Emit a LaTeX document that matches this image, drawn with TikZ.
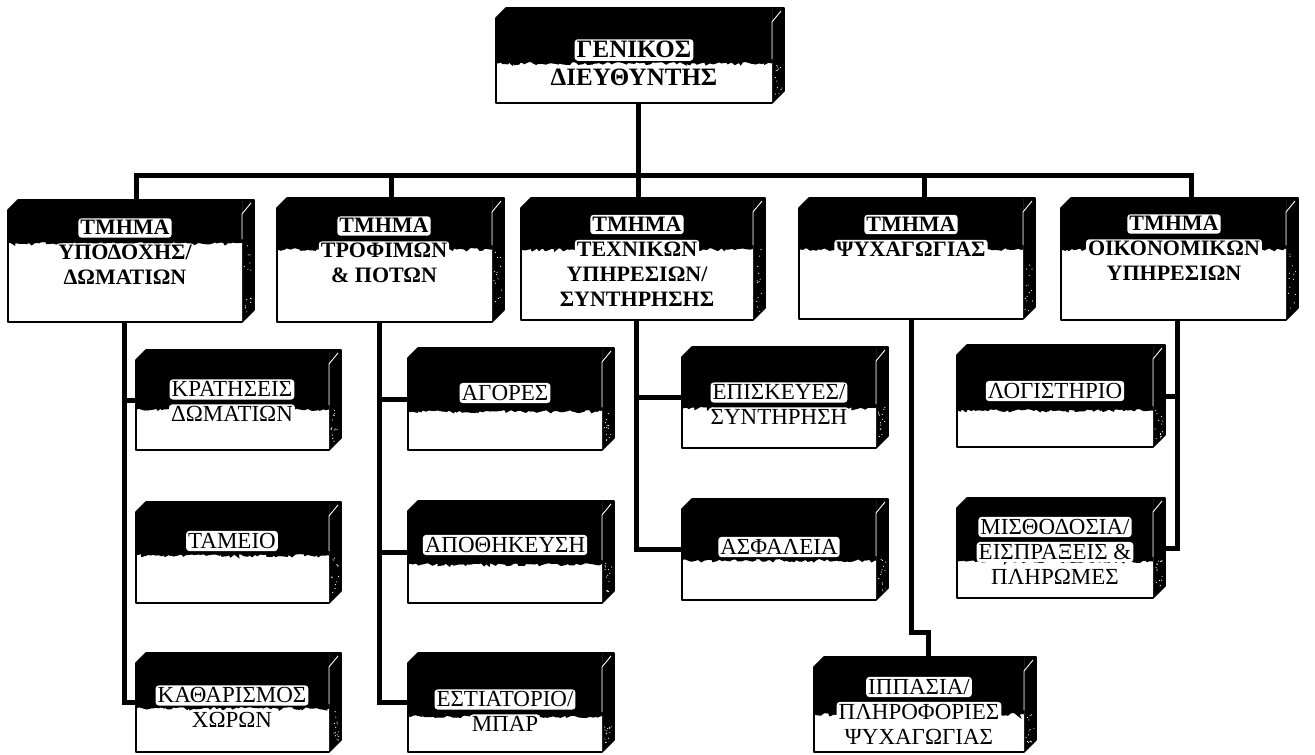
\documentclass[tikz,border=0pt]{standalone}
\usepackage{fontspec}
\setmainfont{Liberation Serif}
\usetikzlibrary{decorations.pathmorphing}

% 3-D box: name, left, top, front right, bottom, depth of the dark top band
\newcommand\orgbox[6]{%
  \fill[black] (#4,#3) -- ({#4+12},#3) -- ({#4+12},{#5-12}) -- (#4,#5) -- cycle;
  \foreach \k in {1,...,14}
    \fill[white] ({#4+2+8*rnd},{#3+#6+(#5-#3-#6-8)*rnd}) circle (0.6);
  \fill[white] (#2,{#3+10}) -- ({#2+10},#3) -- (#4,#3) -- (#4,#5) -- (#2,#5) -- cycle;
  \fill[black] (#2,{#3+10}) -- ({#2+10},#3) -- (#4,#3) -- (#4,{#3+#6}) -- (#2,{#3+#6}) -- cycle;
  \draw[black, line width=3pt, decorate,
        decoration={random steps, segment length=2.5pt, amplitude=1.6pt}]
        (#2,{#3+#6}) -- (#4,{#3+#6});
  \draw[white, line width=0.9pt] ({#4+9},{#3+3}) -- (#4,{#3+14}) -- (#4,{#3+#6-3});
  \draw[line width=1.6pt, line join=round]
        (#2,{#3+10}) -- ({#2+10},#3) -- ({#4+12},#3) -- ({#4+12},{#5-12})
        -- (#4,#5) -- (#2,#5) -- cycle;
  \node[inner sep=0, minimum width={#4-#2}, minimum height={#5-#3}]
        (#1) at ({(#2+#4)/2},{(#3+#5)/2}) {};
}
% one line of text with a white rounded halo
\newcommand\hl[1]{\tikz[baseline=(h.base)]\node[fill=white, rounded corners=3pt,
  inner xsep=2pt, inner ysep=1.5pt, text height=0.68em, text depth=0.06em] (h) {#1};}

\begin{document}
\begin{tikzpicture}[x=1pt, y=-1pt,
  toptext/.style={font=\fontsize{25}{28}\selectfont\bfseries, align=center, inner sep=0},
  depttext/.style={font=\fontsize{22}{25}\selectfont\bfseries, align=center, inner sep=0},
  subtext/.style={font=\fontsize{23}{25}\selectfont, align=center, inner sep=0},
  conn/.style={line width=5pt, line join=miter}]
\useasboundingbox (0,0) rectangle (1315,755);
\pgfmathsetseed{7}

% ---------- boxes ----------
\orgbox{top}{496}{8}{772}{103}{54}
\orgbox{d1}{8}{200}{242}{322}{42}
\orgbox{d2}{277}{198}{492}{322}{50}
\orgbox{d3}{521}{198}{753}{320}{50}
\orgbox{d4}{799}{198}{1023}{319}{50}
\orgbox{d5}{1061}{198}{1286}{320}{50}

\orgbox{s11}{136}{350}{329}{450}{58}
\orgbox{s12}{136}{502}{329}{603}{52}
\orgbox{s13}{136}{653}{329}{752}{54}
\orgbox{s21}{408}{348}{602}{450}{62}
\orgbox{s22}{408}{501}{602}{603}{62}
\orgbox{s23}{408}{653}{602}{752}{62}
\orgbox{s31}{682}{347}{876}{448}{60}
\orgbox{s32}{682}{499}{876}{600}{60}
\orgbox{s41}{814}{657}{1024}{752}{56}
\orgbox{s51}{957}{345}{1153}{447}{64}
\orgbox{s52}{957}{498}{1153}{598}{62}

% ---------- texts ----------
\node[toptext] (topt) at (634,64) {\hl{ΓΕΝΙΚΟΣ}\\\hl{ΔΙΕΥΘΥΝΤΗΣ}};
\node[depttext] (d1t) at (125,253) {\hl{ΤΜΗΜΑ}\\\hl{ΥΠΟΔΟΧΗΣ/}\\\hl{ΔΩΜΑΤΙΩΝ}};
\node[depttext] (d2t) at (384,251) {\hl{ΤΜΗΜΑ}\\\hl{ΤΡΟΦΙΜΩΝ}\\\hl{\& ΠΟΤΩΝ}};
\node[depttext] (d3t) at (637,262) {\hl{ΤΜΗΜΑ}\\\hl{ΤΕΧΝΙΚΩΝ}\\\hl{ΥΠΗΡΕΣΙΩΝ/}\\\hl{ΣΥΝΤΗΡΗΣΗΣ}};
\node[depttext] (d4t) at (911,237) {\hl{ΤΜΗΜΑ}\\\hl{ΨΥΧΑΓΩΓΙΑΣ}};
\node[depttext] (d5t) at (1174,249) {\hl{ΤΜΗΜΑ}\\\hl{ΟΙΚΟΝΟΜΙΚΩΝ}\\\hl{ΥΠΗΡΕΣΙΩΝ}};

\node[subtext] (s11t) at (232,402) {\hl{ΚΡΑΤΗΣΕΙΣ}\\\hl{ΔΩΜΑΤΙΩΝ}};
\node[subtext] (s12t) at (232,541) {\hl{ΤΑΜΕΙΟ}};
\node[subtext] (s13t) at (232,708) {\hl{ΚΑΘΑΡΙΣΜΟΣ}\\\hl{ΧΩΡΩΝ}};
\node[subtext] (s21t) at (505,393) {\hl{ΑΓΟΡΕΣ}};
\node[subtext] (s22t) at (505,545) {\hl{ΑΠΟΘΗΚΕΥΣΗ}};
\node[subtext] (s23t) at (505,712) {\hl{ΕΣΤΙΑΤΟΡΙΟ/}\\\hl{ΜΠΑΡ}};
\node[subtext] (s31t) at (779,405) {\hl{ΕΠΙΣΚΕΥΕΣ/}\\\hl{ΣΥΝΤΗΡΗΣΗ}};
\node[subtext] (s32t) at (779,547) {\hl{ΑΣΦΑΛΕΙΑ}};
\node[subtext] (s41t) at (919,712) {\hl{ΙΠΠΑΣΙΑ/}\\\hl{ΠΛΗΡΟΦΟΡΙΕΣ}\\\hl{ΨΥΧΑΓΩΓΙΑΣ}};
\node[subtext] (s51t) at (1055,391) {\hl{ΛΟΓΙΣΤΗΡΙΟ}};
\node[subtext] (s52t) at (1055,552) {\hl{ΜΙΣΘΟΔΟΣΙΑ/}\\\hl{ΕΙΣΠΡΑΞΕΙΣ \&}\\\hl{ΠΛΗΡΩΜΕΣ}};

% ---------- connector lines ----------
\coordinate (busL) at (136,175);
\coordinate (busR) at (1191,175);
\coordinate (v0) at (638,175);
\coordinate (v2) at (391,175);
\coordinate (v4) at (924,175);
\coordinate (c1) at (124,0);
\coordinate (c2) at (379,0);
\coordinate (c3) at (636,0);
\coordinate (c4) at (911,0);
\coordinate (c4b) at (928,632);
\coordinate (c5) at (1177,0);

\draw[conn, line cap=rect] (busL) -- (busR);
\draw[conn] (top.south -| v0) -- (v0) -- (v0 |- d3.north);
\draw[conn] (busL) -- (busL |- d1.north);
\draw[conn] (v2) -- (v2 |- d2.north);
\draw[conn] (v4) -- (v4 |- d4.north);
\draw[conn] (busR) -- (busR |- d5.north);

\draw[conn] (d1.south -| c1) |- (s13.west);
\draw[conn] (c1 |- s11.west) -- (s11.west);

\draw[conn] (d2.south -| c2) |- (s23.west);
\draw[conn] (c2 |- s21.west) -- (s21.west);
\draw[conn] (c2 |- s22.west) -- (s22.west);

\draw[conn] (d3.south -| c3) |- (s32.west);
\draw[conn] (c3 |- s31.west) -- (s31.west);

\draw[conn] (d4.south -| c4) |- (c4b) -- (c4b |- s41.north);

\draw[conn] (d5.south -| c5) |- ([xshift=12pt]s52.east);
\draw[conn] (c5 |- s51.east) -- ([xshift=12pt]s51.east);
\end{tikzpicture}
\end{document}
